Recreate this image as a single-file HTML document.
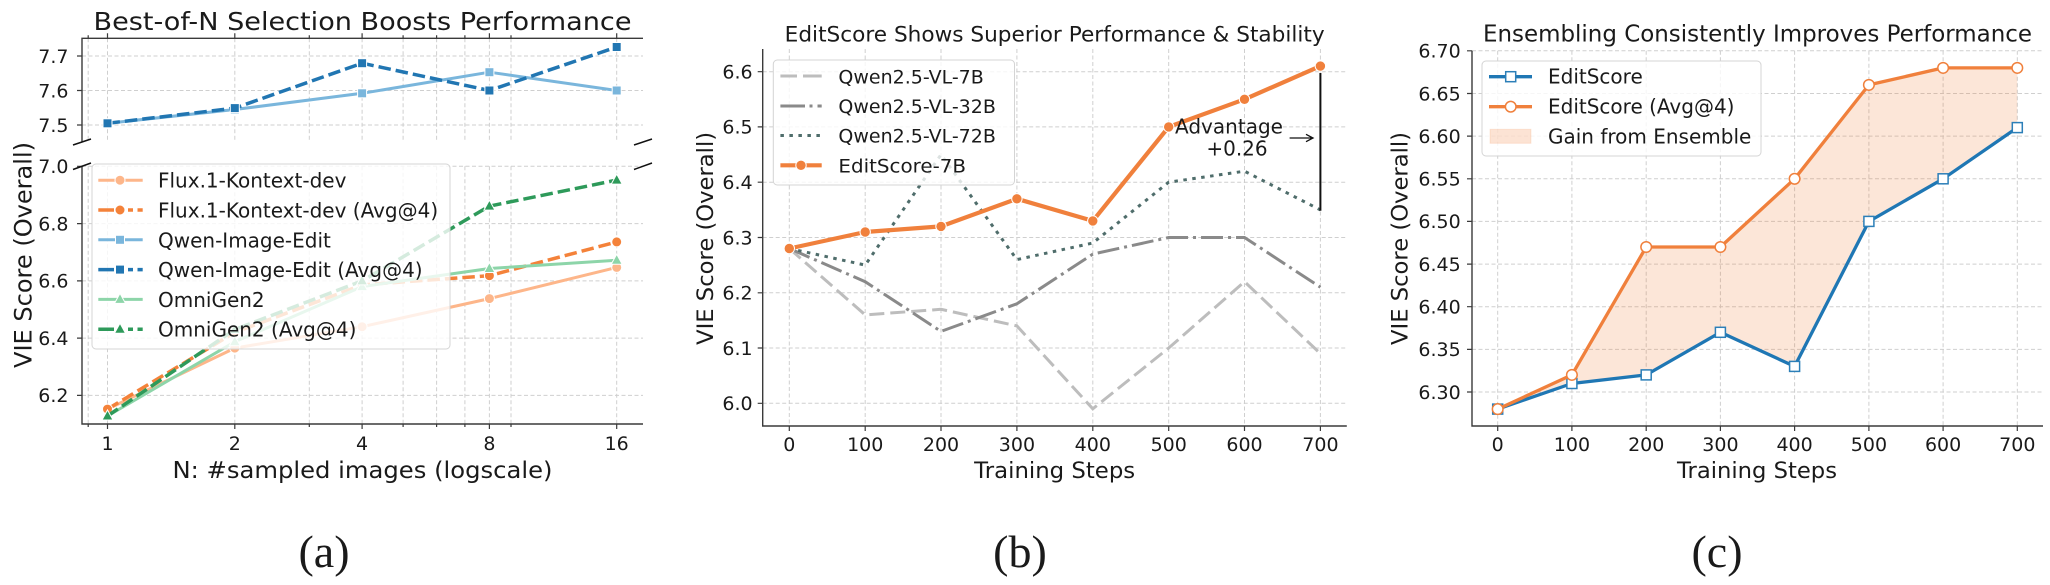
<!DOCTYPE html>
<html><head><meta charset="utf-8"><style>
html,body{margin:0;padding:0;background:#fff}
svg text{font-family:"DejaVu Sans","Liberation Sans",sans-serif;fill:#1a1a1a}
.g{stroke:#cfcfcf;stroke-width:1;stroke-dasharray:4 2.5;fill:none}
.sp{stroke:#3a3a3a;stroke-width:1.4;fill:none}
.tk{stroke:#3a3a3a;stroke-width:1.2;fill:none}
.tl{font-size:19px}
.lab{font-family:"Liberation Serif","Times New Roman",serif !important;font-size:46px}
</style></head><body>
<svg width="2050" height="580" viewBox="0 0 2050 580" xmlns="http://www.w3.org/2000/svg">
<rect width="2050" height="580" fill="#fff"/>

<!-- ================= PANEL A ================= -->
<text x="362.5" y="30" font-size="25" text-anchor="middle" textLength="538" lengthAdjust="spacingAndGlyphs">Best-of-N Selection Boosts Performance</text>
<!-- grids top -->
<path class="g" d="M88.2 38.3V142.3M107.5 38.3V142.3M234.8 38.3V142.3M309.3 38.3V142.3M362.1 38.3V142.3M403.1 38.3V142.3M436.6 38.3V142.3M464.9 38.3V142.3M489.4 38.3V142.3M511 38.3V142.3M616.7 38.3V142.3M82 56H643M82 90.5H643M82 125H643"/>
<!-- grids bottom -->
<path class="g" d="M88.2 166.3V424M107.5 166.3V424M234.8 166.3V424M309.3 166.3V424M362.1 166.3V424M403.1 166.3V424M436.6 166.3V424M464.9 166.3V424M489.4 166.3V424M511 166.3V424M616.7 166.3V424M82 166.3H643M82 223.6H643M82 280.9H643M82 338.1H643M82 395.4H643"/>
<!-- spines -->
<path class="sp" d="M82 142.3V38.3H643M82 166.3V424H643"/>
<!-- ticks -->
<path class="tk" d="M77 56H82M77 90.5H82M77 125H82M77 166.3H82M77 223.6H82M77 280.9H82M77 338.1H82M77 395.4H82
M107.5 424V429M234.8 424V429M362.1 424V429M489.4 424V429M616.7 424V429
M88.2 424V427M309.3 424V427M403.1 424V427M436.6 424V427M464.9 424V427M511 424V427
M107.5 38.3V33.3M234.8 38.3V33.3M362.1 38.3V33.3M489.4 38.3V33.3M616.7 38.3V33.3
M88.2 38.3V35.3M309.3 38.3V35.3M403.1 38.3V35.3M436.6 38.3V35.3M464.9 38.3V35.3M511 38.3V35.3"/>
<!-- break marks -->
<path stroke="#111" stroke-width="1.5" fill="none" d="M73 145L91 139M73 169.5L91 163M634 145L652 139M634 169.5L652 163"/>
<!-- tick labels -->
<g class="tl" text-anchor="end">
<text x="68.5" y="62.8">7.7</text><text x="68.5" y="97.3">7.6</text><text x="68.5" y="131.8">7.5</text>
<text x="68.5" y="173.1">7.0</text><text x="68.5" y="230.4">6.8</text><text x="68.5" y="287.7">6.6</text><text x="68.5" y="344.9">6.4</text><text x="68.5" y="402.2">6.2</text>
</g>
<g class="tl" text-anchor="middle">
<text x="107.5" y="450">1</text><text x="234.8" y="450">2</text><text x="362.1" y="450">4</text><text x="489.4" y="450">8</text><text x="616.7" y="450">16</text>
</g>
<text x="362.5" y="478" font-size="23.5" text-anchor="middle" textLength="380" lengthAdjust="spacingAndGlyphs">N: #sampled images (logscale)</text>
<text transform="translate(31.7,255) rotate(-90)" font-size="24" text-anchor="middle" textLength="226" lengthAdjust="spacingAndGlyphs">VIE Score (Overall)</text>

<!-- series top -->
<polyline fill="none" stroke="#7ab6dc" stroke-width="3" stroke-linejoin="round" points="107.5,123.3 234.8,109.5 362.1,93.3 489.4,72.2 616.7,90.5"/>
<g fill="#7ab6dc" stroke="#fff" stroke-width="1"><rect x="103" y="118.8" width="9" height="9"/><rect x="230.3" y="105" width="9" height="9"/><rect x="357.6" y="88.8" width="9" height="9"/><rect x="484.9" y="67.7" width="9" height="9"/><rect x="612.2" y="86" width="9" height="9"/></g>
<polyline fill="none" stroke="#2176b2" stroke-width="3.5" stroke-dasharray="12.5 5" points="107.5,123.3 234.8,108.1 362.1,63.2 489.4,90.5 616.7,47"/>
<g fill="#2176b2" stroke="#fff" stroke-width="1"><rect x="103" y="118.8" width="9" height="9"/><rect x="230.3" y="103.6" width="9" height="9"/><rect x="357.6" y="58.7" width="9" height="9"/><rect x="484.9" y="86" width="9" height="9"/><rect x="612.2" y="42.5" width="9" height="9"/></g>

<!-- series bottom -->
<polyline fill="none" stroke="#fdb68a" stroke-width="3" stroke-linejoin="round" points="107.5,409.1 234.8,348.1 362.1,326.7 489.4,298.6 616.7,267.4"/>
<g fill="#fdb68a" stroke="#fff" stroke-width="1"><circle cx="107.5" cy="409.1" r="5"/><circle cx="234.8" cy="348.1" r="5"/><circle cx="362.1" cy="326.7" r="5"/><circle cx="489.4" cy="298.6" r="5"/><circle cx="616.7" cy="267.4" r="5"/></g>
<polyline fill="none" stroke="#f4823a" stroke-width="3.5" stroke-dasharray="12.5 5" points="107.5,409.1 234.8,332.4 362.1,284.9 489.4,275.7 616.7,241.9"/>
<g fill="#f4823a" stroke="#fff" stroke-width="1"><circle cx="107.5" cy="409.1" r="5"/><circle cx="234.8" cy="332.4" r="5"/><circle cx="362.1" cy="284.9" r="5"/><circle cx="489.4" cy="275.7" r="5"/><circle cx="616.7" cy="241.9" r="5"/></g>
<polyline fill="none" stroke="#8dd5a9" stroke-width="3" stroke-linejoin="round" points="107.5,416 234.8,341.8 362.1,286.6 489.4,268.5 616.7,260.2"/>
<g fill="#8dd5a9" stroke="#fff" stroke-width="1">
<polygon points="107.5,410 113,420 102,420"/><polygon points="234.8,335.8 240.3,345.8 229.3,345.8"/><polygon points="362.1,280.6 367.6,290.6 356.6,290.6"/><polygon points="489.4,262.5 494.9,272.5 483.9,272.5"/><polygon points="616.7,254.2 622.2,264.2 611.2,264.2"/></g>
<polyline fill="none" stroke="#2e9a5a" stroke-width="3.5" stroke-dasharray="12.5 5" points="107.5,416 234.8,329.5 362.1,280.9 489.4,206.1 616.7,180.1"/>
<g fill="#2e9a5a" stroke="#fff" stroke-width="1">
<polygon points="107.5,410 113,420 102,420"/><polygon points="234.8,323.5 240.3,333.5 229.3,333.5"/><polygon points="362.1,274.9 367.6,284.9 356.6,284.9"/><polygon points="489.4,200.1 494.9,210.1 483.9,210.1"/><polygon points="616.7,174.1 622.2,184.1 611.2,184.1"/></g>

<!-- legend A -->
<rect x="92" y="164" width="358" height="185" rx="4" fill="#fff" fill-opacity="0.8" stroke="#d4d4d4" stroke-width="1"/>
<path stroke="#fdb68a" stroke-width="3" d="M98.3 180.2H142.7"/><circle cx="120" cy="180.2" r="5" fill="#fdb68a" stroke="#fff"/>
<path stroke="#f4823a" stroke-width="3.5" d="M98.3 210H114M128 210H133M137.5 210H142.7"/><circle cx="120" cy="210" r="5" fill="#f4823a" stroke="#fff"/>
<path stroke="#7ab6dc" stroke-width="3" d="M98.3 239.8H142.7"/><rect x="115.5" y="235.3" width="9" height="9" fill="#7ab6dc" stroke="#fff"/>
<path stroke="#2176b2" stroke-width="3.5" d="M98.3 269.6H114M128 269.6H133M137.5 269.6H142.7"/><rect x="115.5" y="265.1" width="9" height="9" fill="#2176b2" stroke="#fff"/>
<path stroke="#8dd5a9" stroke-width="3" d="M98.3 299.4H142.7"/><polygon points="120,293.4 125.5,303.4 114.5,303.4" fill="#8dd5a9" stroke="#fff"/>
<path stroke="#2e9a5a" stroke-width="3.5" d="M98.3 329.2H114M128 329.2H133M137.5 329.2H142.7"/><polygon points="120,323.2 125.5,333.2 114.5,333.2" fill="#2e9a5a" stroke="#fff"/>
<g font-size="20">
<text x="158" y="187.7">Flux.1-Kontext-dev</text>
<text x="158" y="217.5">Flux.1-Kontext-dev (Avg@4)</text>
<text x="158" y="247.3">Qwen-Image-Edit</text>
<text x="158" y="277.1">Qwen-Image-Edit (Avg@4)</text>
<text x="158" y="306.9">OmniGen2</text>
<text x="158" y="336.7">OmniGen2 (Avg@4)</text>
</g>
<text class="lab" x="324" y="567" text-anchor="middle">(a)</text>

<!-- ================= PANEL B ================= -->
<text x="1054.7" y="41.7" font-size="21.5" text-anchor="middle" textLength="540" lengthAdjust="spacingAndGlyphs">EditScore Shows Superior Performance &amp; Stability</text>
<path class="g" d="M789.3 49V426M865.2 49V426M941 49V426M1016.9 49V426M1092.8 49V426M1168.7 49V426M1244.5 49V426M1320.4 49V426
M762.7 403.3H1346.8M762.7 348H1346.8M762.7 292.8H1346.8M762.7 237.5H1346.8M762.7 182.2H1346.8M762.7 126.9H1346.8M762.7 71.7H1346.8"/>
<path class="sp" d="M762.7 49V426H1346.8"/>
<path class="tk" d="M757.7 403.3H762.7M757.7 348H762.7M757.7 292.8H762.7M757.7 237.5H762.7M757.7 182.2H762.7M757.7 126.9H762.7M757.7 71.7H762.7
M789.3 426V431M865.2 426V431M941 426V431M1016.9 426V431M1092.8 426V431M1168.7 426V431M1244.5 426V431M1320.4 426V431"/>
<g class="tl" text-anchor="end">
<text x="752.6" y="78.5">6.6</text><text x="752.6" y="133.7">6.5</text><text x="752.6" y="189">6.4</text><text x="752.6" y="244.3">6.3</text><text x="752.6" y="299.6">6.2</text><text x="752.6" y="354.8">6.1</text><text x="752.6" y="410.1">6.0</text>
</g>
<g class="tl" text-anchor="middle">
<text x="789.3" y="451">0</text><text x="865.2" y="451">100</text><text x="941" y="451">200</text><text x="1016.9" y="451">300</text><text x="1092.8" y="451">400</text><text x="1168.7" y="451">500</text><text x="1244.5" y="451">600</text><text x="1320.4" y="451">700</text>
</g>
<text x="1054.7" y="478" font-size="22" text-anchor="middle" textLength="161" lengthAdjust="spacingAndGlyphs">Training Steps</text>
<text transform="translate(713,238.4) rotate(-90)" font-size="22.6" text-anchor="middle" textLength="213" lengthAdjust="spacingAndGlyphs">VIE Score (Overall)</text>

<polyline fill="none" stroke="#bdbdbd" stroke-width="3" stroke-dasharray="15 6" points="789.3,248.5 865.2,314.9 941,309.3 1016.9,325.9 1092.8,408.8 1168.7,348 1244.5,281.7 1320.4,353.6"/>
<polyline fill="none" stroke="#8a8a8a" stroke-width="3" stroke-dasharray="22 5 3 5" points="789.3,248.5 865.2,281.7 941,331.4 1016.9,303.8 1092.8,254.1 1168.7,237.5 1244.5,237.5 1320.4,287.2"/>
<polyline fill="none" stroke="#4f6d6b" stroke-width="3" stroke-dasharray="3.5 5.5" points="789.3,248.5 865.2,265.1 941,154.6 1016.9,259.6 1092.8,243 1168.7,182.2 1244.5,171.2 1320.4,209.9"/>
<polyline fill="none" stroke="#f0803c" stroke-width="4.2" stroke-linejoin="round" points="789.3,248.5 865.2,232 941,226.4 1016.9,198.8 1092.8,220.9 1168.7,126.9 1244.5,99.3 1320.4,66.1"/>
<g fill="#f0803c" stroke="#fff" stroke-width="1"><circle cx="789.3" cy="248.5" r="5.2"/><circle cx="865.2" cy="232" r="5.2"/><circle cx="941" cy="226.4" r="5.2"/><circle cx="1016.9" cy="198.8" r="5.2"/><circle cx="1092.8" cy="220.9" r="5.2"/><circle cx="1168.7" cy="126.9" r="5.2"/><circle cx="1244.5" cy="99.3" r="5.2"/><circle cx="1320.4" cy="66.1" r="5.2"/></g>
<!-- annotation -->
<path stroke="#111" stroke-width="2" d="M1320.4 73V210.7"/>
<path stroke="#111" stroke-width="1.3" fill="none" d="M1289.6 138H1313M1306 134.3L1313 138L1306 141.7"/>
<text x="1229" y="133.3" font-size="20" text-anchor="middle" textLength="108" lengthAdjust="spacingAndGlyphs">Advantage</text>
<text x="1237" y="155.7" font-size="20" text-anchor="middle">+0.26</text>

<!-- legend B -->
<rect x="773.3" y="60" width="241.2" height="125" rx="4" fill="#fff" fill-opacity="0.8" stroke="#d4d4d4" stroke-width="1"/>
<path stroke="#bdbdbd" stroke-width="3" d="M780.4 76H797M803 76H821.7"/>
<path stroke="#8a8a8a" stroke-width="3" d="M780.4 106H805M809.5 106H812.5M817.5 106H821.7"/>
<path stroke="#4f6d6b" stroke-width="3" stroke-dasharray="3.5 5.5" d="M780.4 135.5H821.7"/>
<path stroke="#f0803c" stroke-width="4.2" d="M780.4 165.3H821.7"/><circle cx="801" cy="165.3" r="5.2" fill="#f0803c" stroke="#fff"/>
<g font-size="19">
<text x="838.4" y="83.3">Qwen2.5-VL-7B</text>
<text x="838.4" y="113">Qwen2.5-VL-32B</text>
<text x="838.4" y="142.7">Qwen2.5-VL-72B</text>
<text x="838.4" y="172.5" textLength="127.7" lengthAdjust="spacingAndGlyphs">EditScore-7B</text>
</g>
<text class="lab" x="1020" y="567" text-anchor="middle">(b)</text>

<!-- ================= PANEL C ================= -->
<text x="1757.5" y="41.7" font-size="22.9" text-anchor="middle" textLength="549" lengthAdjust="spacingAndGlyphs">Ensembling Consistently Improves Performance</text>
<path class="g" d="M1497.7 50.8V426M1571.9 50.8V426M1646.2 50.8V426M1720.4 50.8V426M1794.6 50.8V426M1868.9 50.8V426M1943.1 50.8V426M2017.3 50.8V426
M1472 392H2043M1472 349.4H2043M1472 306.7H2043M1472 264.1H2043M1472 221.4H2043M1472 178.8H2043M1472 136.1H2043M1472 93.5H2043M1472 50.8H2043"/>
<path class="sp" d="M1472 50.8V426H2043"/>
<path class="tk" d="M1467 392H1472M1467 349.4H1472M1467 306.7H1472M1467 264.1H1472M1467 221.4H1472M1467 178.8H1472M1467 136.1H1472M1467 93.5H1472M1467 50.8H1472
M1497.7 426V431M1571.9 426V431M1646.2 426V431M1720.4 426V431M1794.6 426V431M1868.9 426V431M1943.1 426V431M2017.3 426V431"/>
<g class="tl" text-anchor="end">
<text x="1460.7" y="57.6">6.70</text><text x="1460.7" y="100.3">6.65</text><text x="1460.7" y="142.9">6.60</text><text x="1460.7" y="185.6">6.55</text><text x="1460.7" y="228.2">6.50</text><text x="1460.7" y="270.9">6.45</text><text x="1460.7" y="313.5">6.40</text><text x="1460.7" y="356.2">6.35</text><text x="1460.7" y="398.8">6.30</text>
</g>
<g class="tl" text-anchor="middle">
<text x="1497.7" y="451">0</text><text x="1571.9" y="451">100</text><text x="1646.2" y="451">200</text><text x="1720.4" y="451">300</text><text x="1794.6" y="451">400</text><text x="1868.9" y="451">500</text><text x="1943.1" y="451">600</text><text x="2017.3" y="451">700</text>
</g>
<text x="1757" y="478" font-size="22" text-anchor="middle" textLength="160" lengthAdjust="spacingAndGlyphs">Training Steps</text>
<text transform="translate(1407.3,238.5) rotate(-90)" font-size="22.6" text-anchor="middle" textLength="213" lengthAdjust="spacingAndGlyphs">VIE Score (Overall)</text>

<polygon fill="#f0803c" fill-opacity="0.2" points="1497.7,409.1 1571.9,374.9 1646.2,247 1720.4,247 1794.6,178.8 1868.9,84.9 1943.1,67.9 2017.3,67.9 2017.3,127.6 1943.1,178.8 1868.9,221.4 1794.6,366.4 1720.4,332.3 1646.2,374.9 1571.9,383.5 1497.7,409.1"/>
<polyline fill="none" stroke="#1f77b4" stroke-width="3.3" stroke-linejoin="round" points="1497.7,409.1 1571.9,383.5 1646.2,374.9 1720.4,332.3 1794.6,366.4 1868.9,221.4 1943.1,178.8 2017.3,127.6"/>
<g fill="#fff" stroke="#2c7fb8" stroke-width="1.5"><rect x="1492.7" y="404.1" width="10" height="10"/><rect x="1566.9" y="378.5" width="10" height="10"/><rect x="1641.2" y="369.9" width="10" height="10"/><rect x="1715.4" y="327.3" width="10" height="10"/><rect x="1789.6" y="361.4" width="10" height="10"/><rect x="1863.9" y="216.4" width="10" height="10"/><rect x="1938.1" y="173.8" width="10" height="10"/><rect x="2012.3" y="122.6" width="10" height="10"/></g>
<polyline fill="none" stroke="#f0803c" stroke-width="3.3" stroke-linejoin="round" points="1497.7,409.1 1571.9,374.9 1646.2,247 1720.4,247 1794.6,178.8 1868.9,84.9 1943.1,67.9 2017.3,67.9"/>
<g fill="#fff" stroke="#f0803c" stroke-width="1.5"><circle cx="1497.7" cy="409.1" r="5.3"/><circle cx="1571.9" cy="374.9" r="5.3"/><circle cx="1646.2" cy="247" r="5.3"/><circle cx="1720.4" cy="247" r="5.3"/><circle cx="1794.6" cy="178.8" r="5.3"/><circle cx="1868.9" cy="84.9" r="5.3"/><circle cx="1943.1" cy="67.9" r="5.3"/><circle cx="2017.3" cy="67.9" r="5.3"/></g>

<!-- legend C -->
<rect x="1482" y="61" width="279" height="95" rx="4" fill="#fff" fill-opacity="0.8" stroke="#d4d4d4" stroke-width="1"/>
<path stroke="#1f77b4" stroke-width="3.3" d="M1489 76.7H1532"/><rect x="1505.7" y="71.7" width="10" height="10" fill="#fff" stroke="#2c7fb8" stroke-width="1.5"/>
<path stroke="#f0803c" stroke-width="3.3" d="M1489 106.7H1532"/><circle cx="1510.7" cy="106.7" r="5.3" fill="#fff" stroke="#f0803c" stroke-width="1.5"/>
<rect x="1490" y="129.3" width="41" height="14" fill="#f0803c" fill-opacity="0.22" stroke="#f0803c" stroke-opacity="0.15"/>
<g font-size="20">
<text x="1548" y="83.3">EditScore</text>
<text x="1548" y="113.3">EditScore (Avg@4)</text>
<text x="1548" y="143.3">Gain from Ensemble</text>
</g>
<text class="lab" x="1717" y="567" text-anchor="middle">(c)</text>
</svg>
</body></html>
